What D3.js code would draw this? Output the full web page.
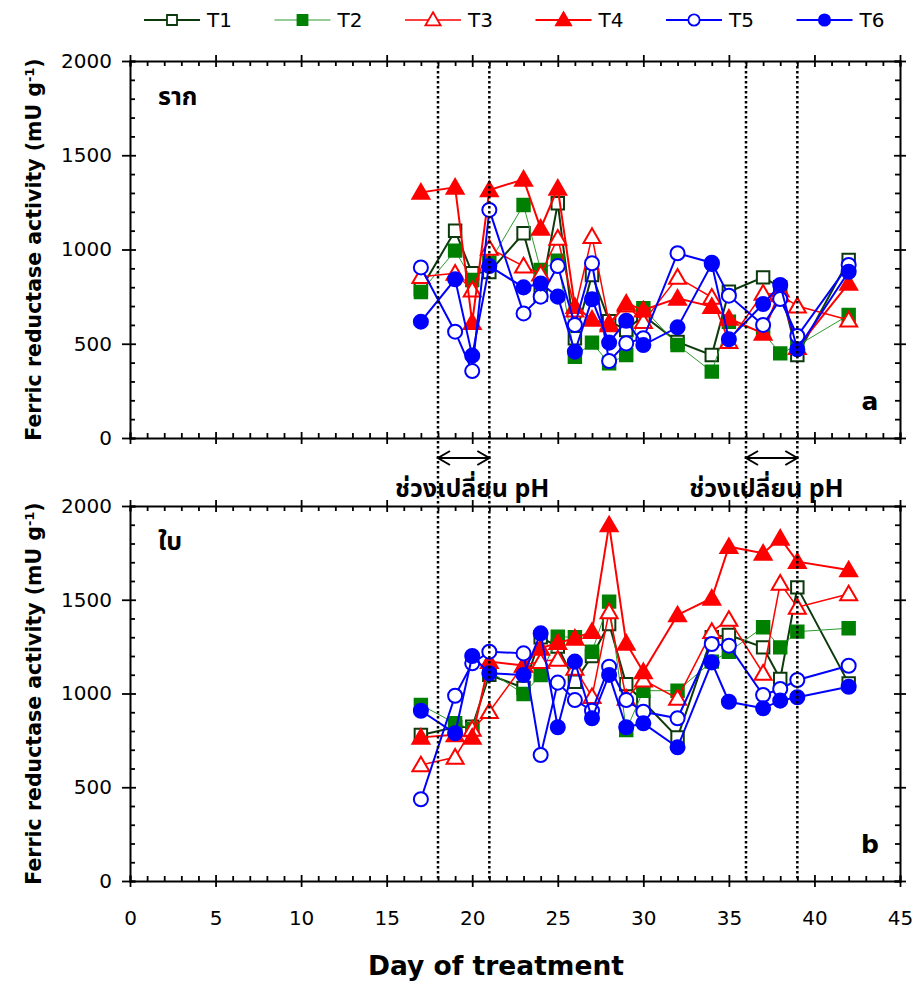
<!DOCTYPE html>
<html>
<head>
<meta charset="utf-8">
<script src="https://cdn.jsdelivr.net/npm/d3@7"></script>
<style>
  body { margin: 0; background: #fff; }
  svg text { font-family: "DejaVu Sans", Verdana, sans-serif; fill: #000; }
  .thai { font-family: "Noto Sans Thai", "Tahoma", "DejaVu Sans", sans-serif; }
</style>
</head>
<body>
<svg id="chart" width="916" height="985"></svg>
<script>
// days sampled
const days = [17, 19, 20, 21, 23, 24, 25, 26, 27, 28, 29, 30, 32, 34, 35, 37, 38, 39, 42];

// root (ราก) values, mU g-1
const rootT1 = [790, 1100, 874, 880, 1086, 760, 1245, 529, 865, 620, 573, 650, 510, 440, 776, 852, 800, 440, 944];
const rootT2 = [775, 994, 838, 930, 1236, 891, 940, 431, 506, 396, 440, 688, 493, 352, 617, 560, 449, 490, 652];
const rootT3 = [856, 874, 785, 1006, 912, 870, 1059, 679, 1068, 610, 705, 617, 852, 746, 511, 768, 760, 700, 626];
const rootT4 = [1303, 1330, 612, 1316, 1372, 1112, 1325, 697, 630, 600, 714, 679, 741, 697, 635, 555, 785, 480, 820];
const rootT5 = [905, 564, 355, 1210, 661, 750, 912, 600, 927, 408, 502, 529, 980, 930, 755, 600, 737, 541, 918];
const rootT6 = [617, 842, 437, 912, 799, 820, 750, 458, 736, 506, 622, 493, 587, 923, 524, 711, 812, 470, 882];

// leaf (ใบ) values
const leafT1 = [779, 820, 823, 1100, 1030, 1300, 1250, 1063, 1200, 1371, 1050, 956, 766, 1300, 1312, 1246, 1077, 1566, 1054];
const leafT2 = [939, 841, 810, 1120, 997, 1099, 1303, 1300, 1223, 1490, 805, 1015, 1015, 1170, 1223, 1353, 1246, 1330, 1348];
const leafT3 = [619, 660, 809, 903, 1152, 1170, 1182, 1134, 983, 1436, 974, 1072, 974, 1330, 1395, 1108, 1588, 1460, 1531];
const leafT4 = [766, 780, 766, 1170, 1150, 1241, 1271, 1294, 1330, 1899, 1268, 1116, 1419, 1508, 1783, 1748, 1828, 1703, 1659];
const leafT5 = [436, 988, 1161, 1223, 1214, 672, 1058, 965, 908, 1143, 965, 903, 868, 1264, 1255, 992, 1024, 1072, 1148];
const leafT6 = [908, 788, 1200, 1108, 1099, 1321, 820, 1170, 868, 1099, 820, 841, 713, 1166, 956, 921, 962, 980, 1036];

const seriesNames = ['T1', 'T2', 'T3', 'T4', 'T5', 'T6'];
const xTicks = [0, 5, 10, 15, 20, 25, 30, 35, 40, 45];
const yTicks = [0, 500, 1000, 1500, 2000];
const phBands = [[18, 21], [36, 39]];
const phLabelAt = [20.0, 37.2];
const phLabel = 'ช่วงเปลี่ยน pH';

// look of each treatment
const styles = {
  T1: { color: '#0d3a0d', fill: '#fff', shape: 'square', lw: 2 },
  T2: { color: '#008000', fill: '#008000', shape: 'square', lw: 1, line: '#2e9a2e' },
  T3: { color: '#ff0000', fill: '#fff', shape: 'triangle', lw: 1.5 },
  T4: { color: '#ff0000', fill: '#ff0000', shape: 'triangle', lw: 2 },
  T5: { color: '#0000ff', fill: '#fff', shape: 'circle', lw: 2 },
  T6: { color: '#0000ff', fill: '#0000ff', shape: 'circle', lw: 2 }
};

const panels = [
  { name: 'ราก', letter: 'a', top: 61, bottom: 438, labels: false,
    series: [rootT1, rootT2, rootT3, rootT4, rootT5, rootT6] },
  { name: 'ใบ', letter: 'b', top: 506, bottom: 881, labels: true,
    series: [leafT1, leafT2, leafT3, leafT4, leafT5, leafT6] }
];

const svg = d3.select('#chart');
const left = 130, right = 900;
const x = d3.scaleLinear().domain([0, 45]).range([left, right]);

function symbolPath(shape, size) {
  const t = shape === 'square' ? d3.symbolSquare : shape === 'triangle' ? d3.symbolTriangle : d3.symbolCircle;
  return d3.symbol().type(t).size(size)();
}
const markSize = { square: 155, triangle: 125, circle: 155 };

// crossing majors, inward minors
function fixTicks(g, isMajor, out, inn, vertical) {
  g.selectAll('.tick line').each(function(d) {
    const l = d3.select(this);
    if (isMajor(d)) {
      if (vertical) l.attr('y1', out).attr('y2', inn);
      else l.attr('x1', out).attr('x2', inn);
    }
  });
}

panels.forEach(function(p) {
  const y = d3.scaleLinear().domain([0, 2000]).range([p.bottom, p.top]);
  const g = svg.append('g');
  const majorX = d => d % 5 === 0;
  const majorY = d => d % 500 === 0;

  // axes
  const bottom = g.append('g').attr('transform', `translate(0,${p.bottom})`)
    .call(d3.axisBottom(x).tickValues(d3.range(0, 46)).tickSize(-5).tickPadding(30)
      .tickFormat(d => (p.labels && xTicks.includes(d)) ? d : ''));
  fixTicks(bottom, majorX, 6, -6, true);

  const top = g.append('g').attr('transform', `translate(0,${p.top})`)
    .call(d3.axisTop(x).tickValues(d3.range(0, 46)).tickSize(-5).tickFormat(''));
  fixTicks(top, majorX, -6, 6, true);

  const leftAx = g.append('g').attr('transform', `translate(${left},0)`)
    .call(d3.axisLeft(y).tickValues(d3.range(0, 2001, 100)).tickSize(-5).tickPadding(18)
      .tickFormat(d => yTicks.includes(d) ? d : ''));
  fixTicks(leftAx, majorY, -8, 6, false);

  const rightAx = g.append('g').attr('transform', `translate(${right},0)`)
    .call(d3.axisRight(y).tickValues(d3.range(0, 2001, 100)).tickSize(-5).tickFormat(''));
  fixTicks(rightAx, majorY, 6, -6, false);

  g.selectAll('.domain').attr('stroke-width', 2).attr('stroke', '#000');
  g.selectAll('.tick line').attr('stroke-width', 1.8).attr('stroke', '#000');
  g.selectAll('.tick text').attr('font-size', 20).attr('fill', '#1a1a1a')
    .style('font-family', '"DejaVu Sans", Verdana, sans-serif');

  // y title
  const yt = g.append('text')
    .attr('transform', `translate(41,${(p.top + p.bottom) / 2}) rotate(-90)`)
    .attr('text-anchor', 'middle').attr('font-weight', 'bold').attr('font-size', 20.5);
  yt.append('tspan').text('Ferric reductase activity (mU g');
  yt.append('tspan').attr('baseline-shift', 'super').attr('font-size', 13).text('-1');
  yt.append('tspan').text(')');

  // panel labels
  g.append('text').attr('class', 'thai').attr('x', 158).attr('y', p.top + 44)
    .attr('font-weight', 'bold').attr('font-size', 25).text(p.name);
  g.append('text').attr('x', right - 30).attr('y', p.bottom - 28).attr('text-anchor', 'middle')
    .attr('font-weight', 'bold').attr('font-size', 25).text(p.letter);

  // series
  p.series.forEach(function(vals, i) {
    const st = styles[seriesNames[i]];
    const pts = days.map((d, k) => ({ d: d, v: vals[k] }));
    g.append('path').datum(pts)
      .attr('fill', 'none').attr('stroke', st.line || st.color).attr('stroke-width', st.lw)
      .attr('d', d3.line().x(q => x(q.d)).y(q => y(q.v)));
    g.selectAll(null).data(pts).enter().append('path')
      .attr('transform', q => `translate(${x(q.d)},${y(q.v) + (st.shape === 'triangle' ? 1.5 : 0)})`)
      .attr('d', symbolPath(st.shape, markSize[st.shape]))
      .attr('fill', st.fill).attr('stroke', st.color).attr('stroke-width', 2);
  });
});

// pH change windows
const yTopAll = panels[0].top, yBotAll = panels[1].bottom;
phBands.forEach(function(b, i) {
  b.forEach(function(d) {
    svg.append('line').attr('x1', x(d)).attr('x2', x(d)).attr('y1', yTopAll).attr('y2', yBotAll)
      .attr('stroke', '#000').attr('stroke-width', 2.5).attr('stroke-dasharray', '2.5,2.5');
  });
  const ay = 458;
  svg.append('line').attr('x1', x(b[0])).attr('x2', x(b[1])).attr('y1', ay).attr('y2', ay)
    .attr('stroke', '#000').attr('stroke-width', 2);
  [[b[0], 1], [b[1], -1]].forEach(function(e) {
    const x0 = x(e[0]);
    svg.append('path')
      .attr('d', `M${x0 + e[1] * 12},${ay - 7} L${x0},${ay} L${x0 + e[1] * 12},${ay + 7}`)
      .attr('fill', 'none').attr('stroke', '#000').attr('stroke-width', 2);
  });
  svg.append('text').attr('class', 'thai').attr('x', x(phLabelAt[i])).attr('y', 497)
    .attr('text-anchor', 'middle').attr('font-weight', 'bold').attr('font-size', 25).text(phLabel);
});

// x title
svg.append('text').attr('x', (left + right) / 2 - 19).attr('y', 975).attr('text-anchor', 'middle')
  .attr('font-weight', 'bold').attr('font-size', 26.5).text('Day of treatment');

// legend
const legend = svg.append('g').attr('transform', 'translate(144,20)');
seriesNames.forEach(function(n, i) {
  const st = styles[n];
  const lg = legend.append('g').attr('transform', `translate(${i * 130.5},0)`);
  lg.append('line').attr('x1', 0).attr('x2', 56).attr('stroke', st.line || st.color).attr('stroke-width', st.lw);
  lg.append('path').attr('transform', `translate(28,${st.shape === 'triangle' ? 1 : 0})`)
    .attr('d', symbolPath(st.shape, 100))
    .attr('fill', st.fill).attr('stroke', st.color).attr('stroke-width', 1.8);
  lg.append('text').attr('x', 63).attr('y', 7).attr('font-size', 20).text(n);
});
</script>
</body>
</html>
